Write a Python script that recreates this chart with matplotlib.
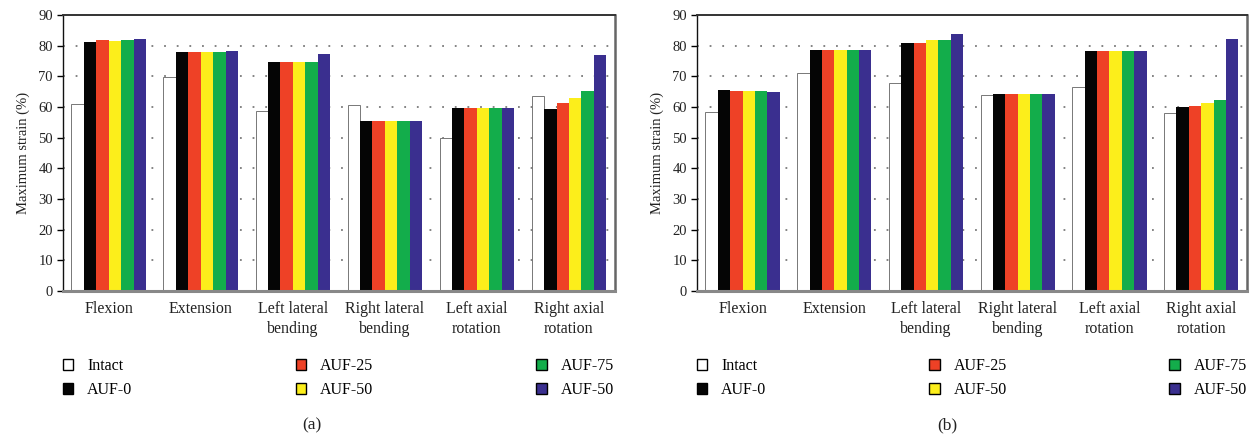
import matplotlib.pyplot as plt
from matplotlib.patches import Patch
import numpy as np

plt.rcParams['font.family'] = ['Liberation Serif', 'DejaVu Serif']

categories = ["Flexion", "Extension", "Left lateral\nbending", "Right lateral\nbending",
              "Left axial\nrotation", "Right axial\nrotation"]
series_names = ["Intact", "AUF-0", "AUF-25", "AUF-50", "AUF-75", "AUF-50"]
colors = ["#ffffff", "#050505", "#ee4126", "#fcee1b", "#13ad4b", "#3a2f8f"]

# panel (a)
intact_a = [61.1, 69.7, 58.6, 60.5, 49.8, 63.7]
auf0_a = [81.3, 77.8, 74.7, 55.4, 59.8, 59.2]
auf25_a = [81.8, 77.8, 74.7, 55.4, 59.8, 61.4]
auf50_a = [81.6, 77.8, 74.7, 55.4, 59.8, 63.0]
auf75_a = [81.7, 77.8, 74.7, 55.4, 59.8, 65.1]
auf50b_a = [82.2, 78.1, 77.2, 55.4, 59.8, 77.1]

# panel (b)
intact_b = [58.5, 71.0, 67.7, 63.8, 66.6, 58.0]
auf0_b = [65.6, 78.5, 80.9, 64.2, 78.4, 59.9]
auf25_b = [65.1, 78.5, 80.9, 64.2, 78.4, 60.3]
auf50_b = [65.1, 78.5, 81.7, 64.2, 78.4, 61.3]
auf75_b = [65.1, 78.5, 81.7, 64.2, 78.4, 62.4]
auf50b_b = [64.8, 78.5, 83.9, 64.2, 78.4, 82.3]

W, H = 1253, 440
fig = plt.figure(figsize=(W / 100, H / 100), dpi=100)


def draw_panel(rect, data, leg_box, caption, cap_x):
    ax = fig.add_axes(rect)
    x = np.arange(len(categories))
    n = len(data)
    bw = 0.81 / n
    for i, vals in enumerate(data):
        pos = x - 0.405 + bw * (i + 0.5)
        if i == 0:
            ax.bar(pos, vals, bw, color=colors[i], edgecolor="#777777", linewidth=0.7, zorder=2)
        else:
            ax.bar(pos, vals, bw, color=colors[i], edgecolor="none", zorder=2)
    ax.set_xlim(-0.5, len(categories) - 0.5)
    ax.set_ylim(0, 90)
    ax.set_yticks(range(0, 91, 10))
    for v in range(10, 90, 10):
        ax.axhline(v, color="#7a7a7a", lw=1.3, ls=(0, (1, 6)), zorder=1)
    ax.set_xticks(x)
    ax.set_xticklabels(categories, fontsize=11.5, color="#222222", linespacing=1.38)
    ax.tick_params(axis="x", length=0, pad=7)
    ax.tick_params(axis="y", length=4, width=1, labelsize=10.5, labelcolor="#222222", pad=3)
    ax.set_ylabel("Maximum strain (%)", fontsize=10.5, color="#222222", labelpad=6)
    ax.spines["left"].set_color("#111111")
    ax.spines["left"].set_linewidth(1.0)
    ax.spines["top"].set_color("#333333")
    ax.spines["top"].set_linewidth(1.4)
    ax.spines["right"].set_color("#666666")
    ax.spines["right"].set_linewidth(1.8)
    ax.spines["bottom"].set_color("#888888")
    ax.spines["bottom"].set_linewidth(2.2)

    handles = [Patch(facecolor=c, edgecolor="black", linewidth=1.0) for c in colors]
    fig.legend(handles, series_names, loc="lower left", bbox_to_anchor=leg_box, mode="expand",
               ncol=3, frameon=False, fontsize=11.5, borderpad=0, borderaxespad=0,
               handlelength=0.67, handleheight=0.67, handletextpad=0.85, labelspacing=0.5)
    fig.text(cap_x, 1 - 425 / H, caption, ha="center", va="center", fontsize=12.5, color="#222222")
    return ax


def box(x0, x1, ytop, ybot):
    return (x0 / W, 1 - ybot / H, (x1 - x0) / W, (ybot - ytop) / H)


draw_panel([62.7 / W, 1 - 291 / H, (615 - 62.7) / W, (291 - 15) / H],
           [intact_a, auf0_a, auf25_a, auf50_a, auf75_a, auf50b_a],
           box(62.7, 614, 355, 398), "(a)", 312 / W)
draw_panel([696.7 / W, 1 - 291 / H, (1247 - 696.7) / W, (291 - 15) / H],
           [intact_b, auf0_b, auf25_b, auf50_b, auf75_b, auf50b_b],
           box(696.7, 1247, 355, 398), "(b)", 947 / W)

fig.savefig("out.png", dpi=100)
